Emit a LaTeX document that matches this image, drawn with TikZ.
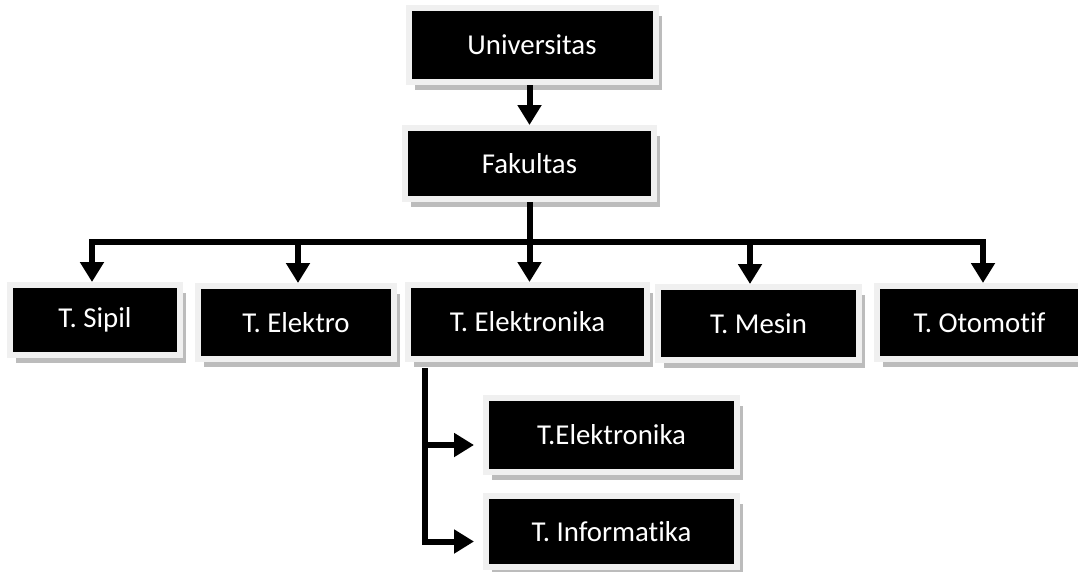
\documentclass[tikz,border=0pt]{standalone}
\usepackage{fontspec}
\setmainfont{Carlito}[Ligatures=NoCommon]
\usepackage{tikz}
\usetikzlibrary{shadows,arrows.meta}
\definecolor{FR}{HTML}{f0f0f0}
\definecolor{SH}{HTML}{bcbcbc}
\tikzset{
  unitbox/.style={draw=FR, line width=6pt, fill=black, text=white, inner sep=0pt, font=\fontsize{28.8}{34}\selectfont, drop shadow={shadow xshift=6pt, shadow yshift=-8pt, fill=SH, opacity=1}},
  link/.style={line width=6pt},
  arr/.style={line width=6pt, -{Triangle[width=23pt,length=20pt]}},
}
\begin{document}
\begin{tikzpicture}[x=1pt,y=-1pt]%
\useasboundingbox (0,0) rectangle (1078,571);%
\node[unitbox, minimum width=247pt, minimum height=74pt] (univ) at (532,45) {Universitas};%
\node[unitbox, minimum width=249pt, minimum height=71pt] (fak) at (529.5,163.5) {Fakultas};%
\node[unitbox, minimum width=170pt, minimum height=70pt] (sipil) at (95,320) {T. Sipil};%
\node[unitbox, minimum width=196pt, minimum height=73pt] (elektro) at (296,322.5) {T. Elektro};%
\node[unitbox, minimum width=239pt, minimum height=74pt] (elektronika) at (527.5,322) {T. Elektronika};%
\node[unitbox, minimum width=201pt, minimum height=73pt] (mesin) at (758.5,323.5) {T. Mesin};%
\node[unitbox, minimum width=206pt, minimum height=73pt] (otomotif) at (979.5,322.5) {T. Otomotif};%
\node[unitbox, minimum width=251pt, minimum height=74pt] (subelka) at (611.5,435) {T.Elektronika};%
\node[unitbox, minimum width=251pt, minimum height=71pt] (informatika) at (611.5,531.5) {T. Informatika};%
% universitas -> fakultas
\draw[arr] (fak.north |- univ.south) -- (fak.north);%
% bus to the jurusan
\coordinate (bus) at (529.5,242);%
\draw[link] (fak.south) -- (bus);%
\draw[arr] (bus) -| ([xshift=-3pt]sipil.north);%
\draw[arr] (bus) -| ([xshift=2pt]elektro.north);%
\draw[arr] (bus) -- (bus |- elektronika.north);%
\draw[arr] (bus) -| ([xshift=-8.5pt]mesin.north);%
\draw[arr] (bus) -| ([xshift=3.5pt]otomotif.north);%
% prodi under t. elektronika
\coordinate (stem) at ([xshift=20pt,yshift=-6pt]elektronika.south west);%
\draw[arr, shorten >=9pt] (stem) |- ([yshift=-10pt]subelka.west);%
\draw[arr, shorten >=9pt] (stem) |- ([yshift=-10pt]informatika.west);%
\end{tikzpicture}
\end{document}
